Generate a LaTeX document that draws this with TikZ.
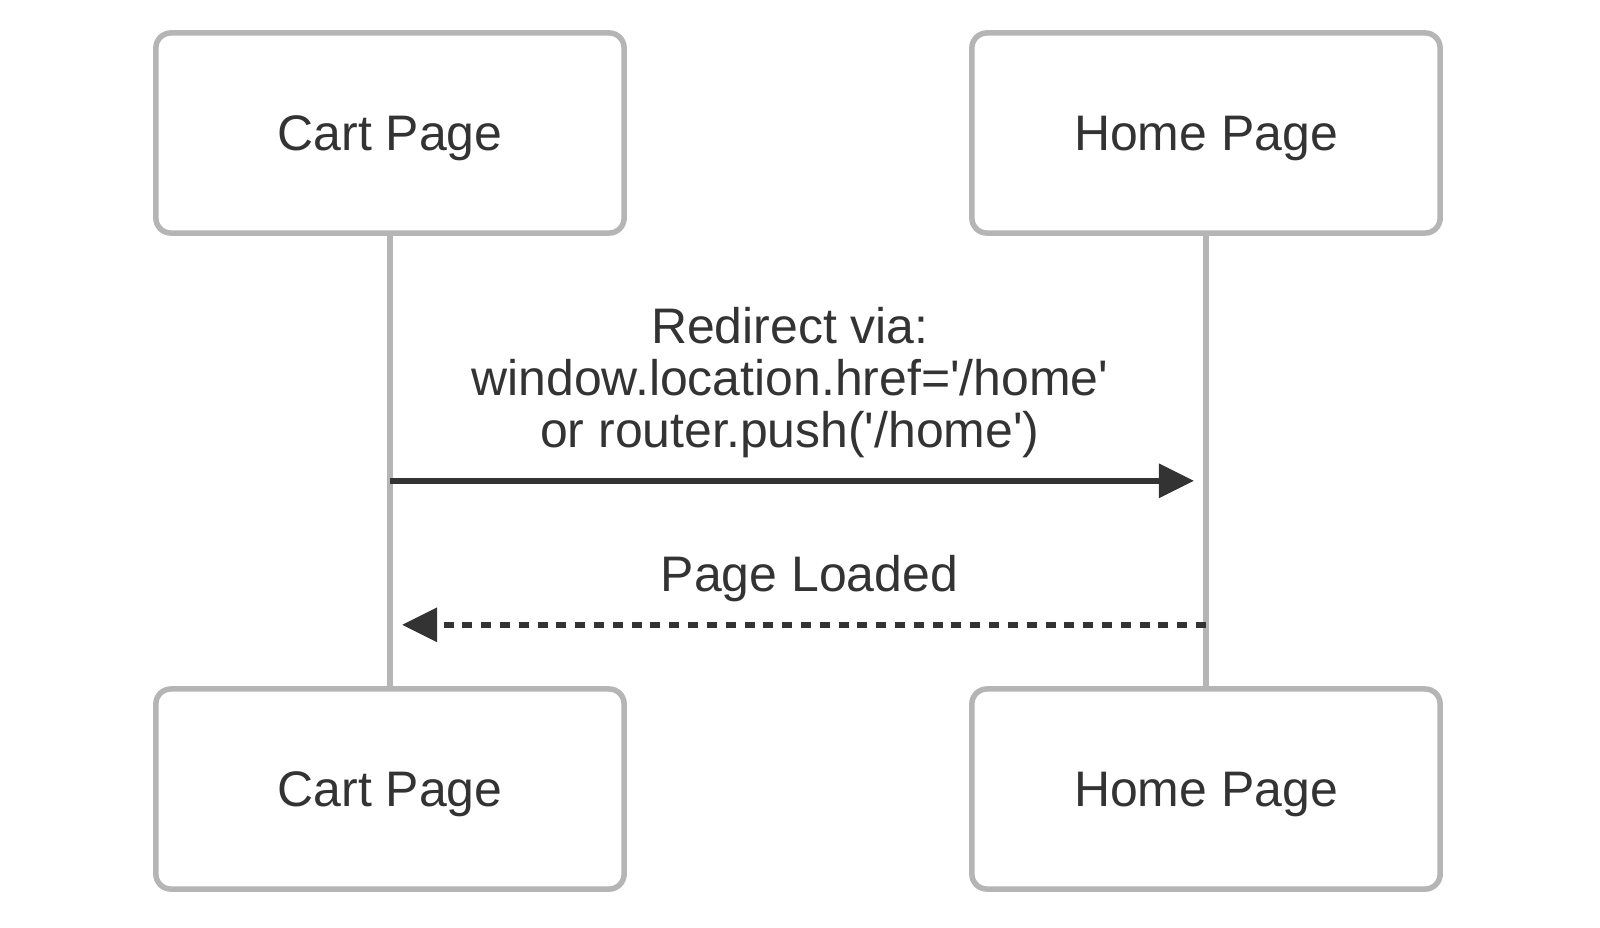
\documentclass[tikz,border=0pt]{standalone}
\usepackage{fontspec}
\setmainfont{Liberation Sans}
\usetikzlibrary{arrows.meta, positioning, calc}

\definecolor{boxgray}{HTML}{B5B5B5}
\definecolor{inkgray}{HTML}{333333}

\newcommand{\sq}{\textquotesingle}

\begin{document}
\begin{tikzpicture}[x=0.01cm, y=-0.01cm,
    every node/.style={font=\fontsize{14.2}{14.8}\selectfont, text=inkgray},
    actor/.style={draw=boxgray, line width=0.055cm, rounded corners=0.15cm, fill=white,
        minimum width=4.68cm, minimum height=2cm, inner sep=0pt, text depth=0pt},
    lifeline/.style={draw=boxgray, line width=0.055cm},
    call/.style={draw=inkgray, line width=0.06cm, -{Triangle[length=0.35cm, width=0.33cm]}, shorten >=0.12cm},
    reply/.style={call, dash pattern=on 0.1cm off 0.088cm}]

    \useasboundingbox (0, 0) rectangle (1600, 927);

    \node [actor] (cartTop) at (390, 133) {Cart Page};
    \node [actor] (homeTop) at (1206, 133) {Home Page};
    \node [actor] (cartBot) at (390, 789) {Cart Page};
    \node [actor] (homeBot) at (1206, 789) {Home Page};

    \draw [lifeline] (cartTop) -- (cartBot);
    \draw [lifeline] (homeTop) -- (homeBot);

    \coordinate (cartRedirect) at ($(cartTop.south) + (0, 245)$);
    \coordinate (homeRedirect) at ($(homeTop.south) + (0, 245)$);
    \coordinate (homeLoaded) at ($(homeTop.south) + (0, 389)$);
    \coordinate (cartLoaded) at ($(cartTop.south) + (0, 389)$);

    \draw [call] (cartRedirect) -- node [pos=0.49, above=0.2cm, inner sep=0pt, align=center]
        {Redirect via:\\window.location.href=\sq/home\sq\\or router.push(\sq/home\sq)} (homeRedirect);
    \draw [reply] (homeLoaded) -- node [pos=0.486, above=0.2cm, inner sep=0pt] {Page Loaded} (cartLoaded);
\end{tikzpicture}
\end{document}
